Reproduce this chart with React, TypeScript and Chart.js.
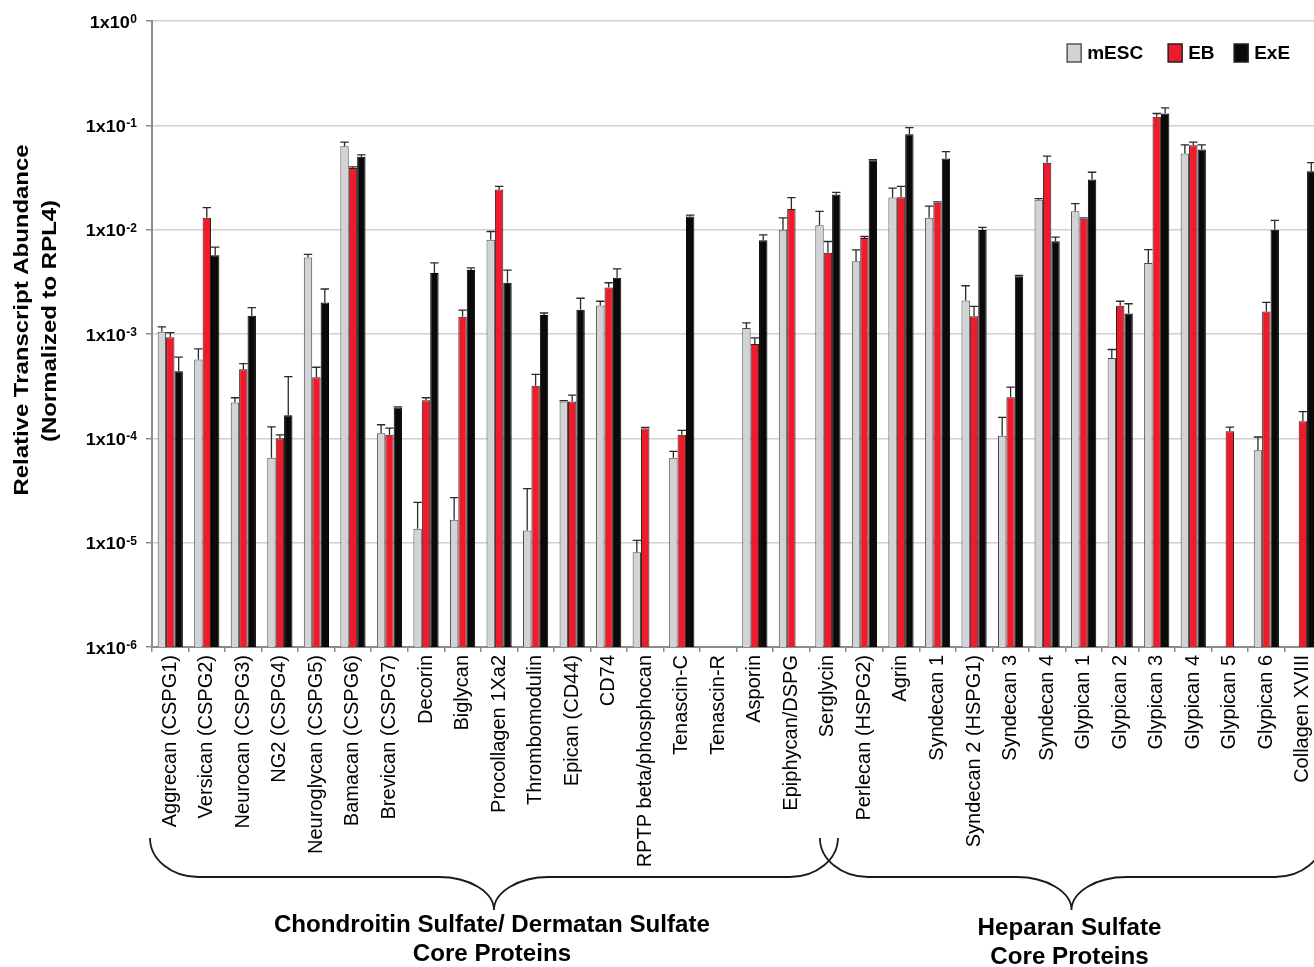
import React, { useEffect, useRef } from 'react';
import { Chart, registerables } from 'chart.js';

Chart.register(...registerables);

const categories = [
  'Aggrecan (CSPG1)', 'Versican (CSPG2)', 'Neurocan (CSPG3)', 'NG2 (CSPG4)', 'Neuroglycan (CSPG5)',
  'Bamacan (CSPG6)', 'Brevican (CSPG7)', 'Decorin', 'Biglycan', 'Procollagen 1Xa2',
  'Thrombomodulin', 'Epican (CD44)', 'CD74', 'RPTP beta/phosphocan', 'Tenascin-C',
  'Tenascin-R', 'Asporin', 'Epiphycan/DSPG', 'Serglycin', 'Perlecan (HSPG2)',
  'Agrin', 'Syndecan 1', 'Syndecan 2 (HSPG1)', 'Syndecan 3', 'Syndecan 4',
  'Glypican 1', 'Glypican 2', 'Glypican 3', 'Glypican 4', 'Glypican 5',
  'Glypican 6', 'Collagen XVIII',
];

const seriesNames = ['mESC', 'EB', 'ExE'];

const mescValues = [
  1.05e-3, 5.7e-4, 2.2e-4, 6.5e-5, 5.4e-3,
  6.3e-2, 1.12e-4, 1.36e-5, 1.66e-5, 8.0e-3,
  1.31e-5, 2.26e-4, 1.88e-3, 8.1e-6, 6.5e-5,
  null, 1.14e-3, 1.0e-2, 1.1e-2, 4.98e-3,
  2.03e-2, 1.3e-2, 2.1e-3, 1.06e-4, 1.94e-2,
  1.5e-2, 5.9e-4, 4.8e-3, 5.37e-2, null,
  7.7e-5, null,
];
const mescErrTop = [
  1.17e-3, 7.2e-4, 2.45e-4, 1.29e-4, 5.8e-3,
  6.9e-2, 1.35e-4, 2.43e-5, 2.7e-5, 9.6e-3,
  3.3e-5, 2.3e-4, 2.06e-3, 1.05e-5, 7.5e-5,
  null, 1.28e-3, 1.3e-2, 1.5e-2, 6.4e-3,
  2.5e-2, 1.68e-2, 2.9e-3, 1.59e-4, 1.98e-2,
  1.78e-2, 7.1e-4, 6.45e-3, 6.5e-2, null,
  1.03e-4, null,
];

const ebValues = [
  9.3e-4, 1.3e-2, 4.6e-4, 1.0e-4, 3.85e-4,
  3.9e-2, 1.08e-4, 2.32e-4, 1.46e-3, 2.43e-2,
  3.2e-4, 2.26e-4, 2.79e-3, 1.24e-4, 1.08e-4,
  null, 8.0e-4, 1.58e-2, 6.0e-3, 8.3e-3,
  2.04e-2, 1.81e-2, 1.48e-3, 2.47e-4, 4.37e-2,
  1.27e-2, 1.87e-3, 1.206e-1, 6.45e-2, 1.17e-4,
  1.64e-3, 1.46e-4,
];
const ebErrTop = [
  1.03e-3, 1.63e-2, 5.2e-4, 1.08e-4, 4.8e-4,
  4.0e-2, 1.25e-4, 2.45e-4, 1.69e-3, 2.6e-2,
  4.1e-4, 2.6e-4, 3.1e-3, 1.27e-4, 1.19e-4,
  null, 9.2e-4, 2.03e-2, 7.7e-3, 8.6e-3,
  2.6e-2, 1.85e-2, 1.84e-3, 3.1e-4, 5.06e-2,
  1.3e-2, 2.06e-3, 1.298e-1, 6.9e-2, 1.28e-4,
  2.01e-3, 1.8e-4,
];

const exeValues = [
  4.4e-4, 5.7e-3, 1.5e-3, 1.66e-4, 2.0e-3,
  4.99e-2, 1.97e-4, 3.85e-3, 4.1e-3, 3.1e-3,
  1.52e-3, 1.71e-3, 3.47e-3, null, 1.34e-2,
  null, 7.9e-3, null, 2.17e-2, 4.63e-2,
  8.2e-2, 4.8e-2, 9.9e-3, 3.58e-3, 7.75e-3,
  3.02e-2, 1.57e-3, 1.298e-1, 5.86e-2, null,
  1.0e-2, 3.63e-2,
];
const exeErrTop = [
  6.0e-4, 6.8e-3, 1.79e-3, 3.9e-4, 2.7e-3,
  5.2e-2, 2.0e-4, 4.8e-3, 4.3e-3, 4.1e-3,
  1.59e-3, 2.2e-3, 4.2e-3, null, 1.38e-2,
  null, 8.9e-3, null, 2.28e-2, 4.7e-2,
  9.5e-2, 5.6e-2, 1.05e-2, 3.65e-3, 8.5e-3,
  3.55e-2, 1.95e-3, 1.47e-1, 6.5e-2, null,
  1.23e-2, 4.4e-2,
];

const yTickValues = [1e-6, 1e-5, 1e-4, 1e-3, 1e-2, 1e-1, 1];

const yTitleLines = ['Relative Transcript Abundance', '(Normalized to RPL4)'];

const groupLabels = [
  ['Chondroitin Sulfate/ Dermatan Sulfate', 'Core Proteins'],
  ['Heparan Sulfate', 'Core Proteins'],
];
// first and last category index covered by each brace
const groupRanges = [
  [0, 18],
  [18, 31],
];

const FONT = "'Liberation Sans', Arial, Helvetica, sans-serif";
const colors = ['#d2d3d5', '#ec1c2c', '#0a0a0a'];
const borders = ['#4a4a4a', '#3a1a1a', '#000000'];

function drawText(
  ctx: CanvasRenderingContext2D,
  text: string,
  x: number,
  y: number,
  font: string,
  align: CanvasTextAlign,
  baseline: CanvasTextBaseline,
  sx = 1,
  rotate = 0,
) {
  ctx.save();
  ctx.translate(x, y);
  if (rotate) ctx.rotate(rotate);
  ctx.scale(sx, 1);
  ctx.font = font;
  ctx.textAlign = align;
  ctx.textBaseline = baseline;
  ctx.fillStyle = '#000';
  ctx.fillText(text, 0, 0);
  ctx.restore();
}

const errorBarPlugin = {
  id: 'errorBars',
  afterDatasetsDraw(chart: any) {
    const ctx = chart.ctx as CanvasRenderingContext2D;
    const ys = chart.scales.y;
    ctx.save();
    ctx.strokeStyle = '#2a2a2a';
    ctx.lineWidth = 1.3;
    chart.data.datasets.forEach((ds: any, i: number) => {
      const meta = chart.getDatasetMeta(i);
      meta.data.forEach((bar: any, j: number) => {
        const top = ds.errTop[j];
        if (top == null || ds.data[j] == null) return;
        const yt = ys.getPixelForValue(top);
        const half = bar.width / 2;
        ctx.beginPath();
        ctx.moveTo(bar.x, bar.y);
        ctx.lineTo(bar.x, yt);
        ctx.moveTo(bar.x - half, yt);
        ctx.lineTo(bar.x + half, yt);
        ctx.stroke();
      });
    });
    ctx.restore();
  },
};

const decorPlugin = {
  id: 'decor',
  afterDraw(chart: any) {
    const ctx = chart.ctx as CanvasRenderingContext2D;
    const ys = chart.scales.y;
    const xs = chart.scales.x;
    const area = chart.chartArea;

    // y tick labels with superscript exponents
    yTickValues.forEach((v) => {
      const y = ys.getPixelForValue(v);
      const exp = String(Math.round(Math.log10(v)));
      const right = area.left - 15;
      ctx.save();
      ctx.font = `bold 12px ${FONT}`;
      const w = ctx.measureText(exp).width;
      ctx.restore();
      drawText(ctx, exp, right, y + 2, `bold 12px ${FONT}`, 'right', 'alphabetic');
      drawText(ctx, '1x10', right - w - 0.5, y + 6.5, `bold 17px ${FONT}`, 'right', 'alphabetic', 1.06);
    });

    // y title
    const midY = (area.top + area.bottom) / 2;
    drawText(ctx, yTitleLines[0], 22, midY - 14, `bold 21px ${FONT}`, 'center', 'middle', 1.14, -Math.PI / 2);
    drawText(ctx, yTitleLines[1], 50, midY - 13, `bold 21px ${FONT}`, 'center', 'middle', 1.14, -Math.PI / 2);

    // legend
    const legendX = [area.right - 254, area.right - 153, area.right - 87];
    const boxY = 44;
    chart.data.datasets.forEach((ds: any, i: number) => {
      const bx = legendX[i];
      ctx.save();
      ctx.fillStyle = ds.backgroundColor;
      ctx.strokeStyle = i === 0 ? '#555' : '#222';
      ctx.lineWidth = 1.5;
      ctx.fillRect(bx, boxY, 14, 18);
      ctx.strokeRect(bx, boxY, 14, 18);
      ctx.restore();
      drawText(ctx, ds.label, bx + 20, boxY + 10, `bold 19px ${FONT}`, 'left', 'middle', 1.0);
    });

    // braces and group labels
    ctx.save();
    ctx.strokeStyle = '#1a1a1a';
    ctx.lineWidth = 1.8;
    groupRanges.forEach((rg, gi) => {
      const x0 = gi === 0 ? area.left - 2 : xs.getPixelForValue(rg[0]) - 8;
      const x1 = gi === groupRanges.length - 1 ? area.right + 2 : xs.getPixelForValue(rg[1]) + 10;
      const xc = (x0 + x1) / 2;
      const yTop = 838;
      const yLine = 877;
      const yCusp = 910;
      const r1 = 48;
      const r2 = 55;
      const k = 0.55;
      ctx.beginPath();
      ctx.moveTo(x0, yTop);
      ctx.bezierCurveTo(x0, yTop + k * (yLine - yTop), x0 + r1 * (1 - k), yLine, x0 + r1, yLine);
      ctx.lineTo(xc - r2, yLine);
      ctx.bezierCurveTo(xc - r2 * (1 - k), yLine, xc, yCusp - k * (yCusp - yLine), xc, yCusp);
      ctx.bezierCurveTo(xc, yCusp - k * (yCusp - yLine), xc + r2 * (1 - k), yLine, xc + r2, yLine);
      ctx.lineTo(x1 - r1, yLine);
      ctx.bezierCurveTo(x1 - r1 * (1 - k), yLine, x1, yTop + k * (yLine - yTop), x1, yTop);
      ctx.stroke();
      const lines = groupLabels[gi];
      const ty = gi === 0 ? 926 : 929;
      lines.forEach((t, li) => {
        drawText(ctx, t, xc - 2, ty + li * 29, `bold 23px ${FONT}`, 'center', 'middle', 1.05);
      });
    });
    ctx.restore();
  },
};

export default function App() {
  const ref = useRef<HTMLCanvasElement>(null);
  useEffect(() => {
    if (!ref.current) return;
    const valueSets = [mescValues, ebValues, exeValues];
    const errSets = [mescErrTop, ebErrTop, exeErrTop];
    const chart = new Chart(ref.current, {
      type: 'bar',
      data: {
        labels: categories,
        datasets: seriesNames.map((name, i) => ({
          label: name,
          data: valueSets[i],
          errTop: errSets[i],
          backgroundColor: colors[i],
          borderColor: borders[i],
          borderWidth: 1,
          categoryPercentage: 0.69,
          barPercentage: 1.0,
        })) as any,
      },
      options: {
        responsive: false,
        animation: false,
        layout: { padding: { left: 142, right: 8, top: 21, bottom: 100 } },
        plugins: {
          legend: { display: false },
          tooltip: { enabled: false },
        },
        scales: {
          x: {
            type: 'category',
            offset: true,
            grid: {
              display: true,
              drawOnChartArea: false,
              drawTicks: true,
              tickLength: 5,
              color: '#8c8c8c',
              lineWidth: 1.5,
              offset: true,
            },
            border: { color: '#8c8c8c', width: 2 },
            ticks: {
              autoSkip: false,
              minRotation: 90,
              maxRotation: 90,
              padding: 3,
              color: '#000',
              font: { family: FONT, size: 20 },
            },
            afterFit: (s: any) => {
              s.height = 220;
            },
          },
          y: {
            type: 'logarithmic',
            min: 1e-6,
            max: 1,
            afterBuildTicks: (s: any) => {
              s.ticks = yTickValues.map((v) => ({ value: v }));
            },
            grid: {
              color: '#d0d0d0',
              lineWidth: 1.5,
              tickLength: 6,
              tickColor: '#8c8c8c',
            },
            border: { color: '#8c8c8c', width: 2 },
            ticks: { display: false },
            afterFit: (s: any) => {
              s.width = 10;
            },
          },
        },
      } as any,
      plugins: [errorBarPlugin, decorPlugin],
    });
    return () => chart.destroy();
  }, []);
  return (
    <div
      style={{
        position: 'absolute',
        left: 0,
        top: 0,
        width: 1314,
        height: 967,
        overflow: 'hidden',
        background: '#fff',
      }}
    >
      <canvas ref={ref} width={1330} height={967} style={{ display: 'block' }} />
    </div>
  );
}
